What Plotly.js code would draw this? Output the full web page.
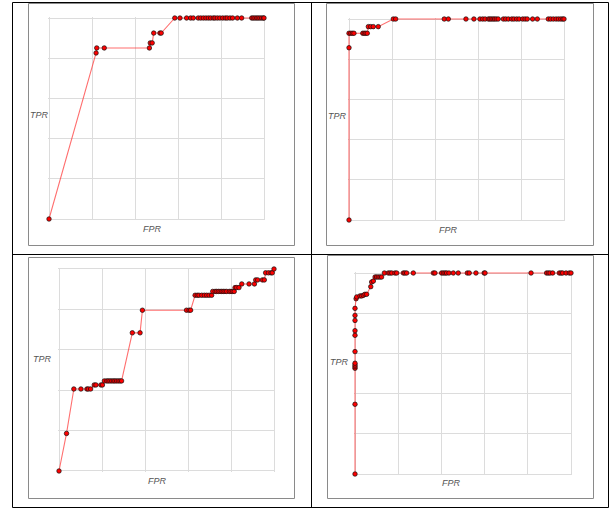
<!DOCTYPE html>
<html>
<head>
<meta charset="utf-8">
<script src="https://cdn.plot.ly/plotly-3.0.1.min.js"></script>
<style>html,body{margin:0;padding:0;background:#fff;}#chart{width:610px;height:508px;}</style>
</head>
<body>
<div id="chart"></div>
<script>
// ---- Data (ROC curves) ----
var fpr1 = [0, 0.219, 0.222, 0.257, 0.467, 0.471, 0.480, 0.487, 0.516, 0.522,
  0.585, 0.609, 0.640, 0.659, 0.671, 0.694, 0.706, 0.718, 0.730, 0.741, 0.752, 0.764, 0.772, 0.783,
  0.795, 0.808, 0.820, 0.829, 0.842, 0.854, 0.876, 0.896, 0.943, 0.950, 0.958, 0.966, 0.973, 0.981,
  0.989, 0.997, 1.0];
var tpr1 = [0, 0.826, 0.851, 0.851, 0.851, 0.876, 0.876, 0.925, 0.925, 0.925,
  1, 1, 1, 1, 1, 1, 1, 1, 1, 1, 1, 1, 1, 1,
  1, 1, 1, 1, 1, 1, 1, 1, 1, 1, 1, 1, 1, 1,
  1, 1, 1];

var fpr2 = [0, 0, 0, 0.008, 0.016, 0.023, 0.064, 0.071, 0.078, 0.085,
  0.090, 0.101, 0.113, 0.136,
  0.206, 0.217, 0.443, 0.462, 0.544, 0.581, 0.609, 0.622, 0.633, 0.648, 0.655, 0.662, 0.670, 0.677,
  0.685, 0.694, 0.718, 0.729, 0.741, 0.757, 0.767, 0.780, 0.791, 0.808, 0.819, 0.829, 0.854, 0.876,
  0.927, 0.938, 0.950, 0.963, 0.974, 0.985, 0.994, 1.0];
var tpr2 = [0, 0.857, 0.929, 0.929, 0.929, 0.929, 0.929, 0.929, 0.929, 0.929,
  0.962, 0.962, 0.962, 0.962,
  1, 1, 1, 1, 1, 1, 1, 1, 1, 1, 1, 1, 1, 1,
  1, 1, 1, 1, 1, 1, 1, 1, 1, 1, 1, 1, 1, 1,
  1, 1, 1, 1, 1, 1, 1, 1];

var fpr3 = [0, 0.035, 0.069, 0.102, 0.130, 0.136, 0.147, 0.164, 0.172, 0.195, 0.202,
  0.211, 0.222, 0.229, 0.237, 0.245, 0.253, 0.260, 0.268, 0.276, 0.284, 0.291,
  0.341, 0.377, 0.388, 0.593, 0.605, 0.612,
  0.633, 0.643, 0.651, 0.664, 0.676, 0.687, 0.698, 0.710,
  0.715, 0.726, 0.733, 0.741, 0.749, 0.757, 0.764, 0.772, 0.780, 0.792, 0.800, 0.808, 0.815,
  0.819, 0.826, 0.837, 0.850, 0.884, 0.909, 0.915, 0.924, 0.946, 0.955,
  0.961, 0.974, 0.986, 0.992, 1.0];
var tpr3 = [0, 0.186, 0.406, 0.406, 0.406, 0.406, 0.406, 0.426, 0.426, 0.426, 0.426,
  0.446, 0.446, 0.446, 0.446, 0.446, 0.446, 0.446, 0.446, 0.446, 0.446, 0.446,
  0.684, 0.684, 0.796, 0.796, 0.796, 0.796,
  0.870, 0.870, 0.870, 0.870, 0.870, 0.870, 0.870, 0.870,
  0.889, 0.889, 0.889, 0.889, 0.889, 0.889, 0.889, 0.889, 0.889, 0.889, 0.889, 0.889, 0.889,
  0.908, 0.908, 0.908, 0.926, 0.926, 0.926, 0.946, 0.946, 0.946, 0.946,
  0.981, 0.981, 0.981, 0.981, 1.0];

var fpr4 = [0, 0, 0, 0, 0, 0, 0, 0, 0, 0, 0, 0,
  0.005, 0.008, 0.023, 0.031, 0.039, 0.046, 0.054, 0.073, 0.077, 0.085,
  0.093, 0.100, 0.108, 0.116, 0.123,
  0.136, 0.154, 0.162, 0.170, 0.185, 0.193, 0.224, 0.231, 0.239, 0.270, 0.363, 0.370, 0.401,
  0.409, 0.417, 0.424, 0.435, 0.455, 0.478, 0.520, 0.529, 0.560, 0.598, 0.602, 0.815, 0.887,
  0.895, 0.903, 0.915, 0.946, 0.954, 0.961, 0.977, 0.992, 1.0];
var tpr4 = [0, 0.347, 0.526, 0.534, 0.542, 0.551, 0.609, 0.690, 0.713, 0.764, 0.789, 0.824,
  0.872, 0.881, 0.886, 0.886, 0.889, 0.894, 0.894, 0.932, 0.955, 0.960,
  0.980, 0.980, 0.980, 0.980, 0.980,
  1, 1, 1, 1, 1, 1, 1, 1, 1, 1, 1, 1, 1,
  1, 1, 1, 1, 1, 1, 1, 1, 1, 1, 1, 1, 1,
  1, 1, 1, 1, 1, 1, 1, 1, 1];

var xTitle = 'FPR';
var yTitle = 'TPR';

// ---- Layout geometry (pixels in a 610x508 page) ----
var W = 610, H = 508;
function px(x) { return x / W; }
function py(y) { return 1 - y / H; }

var panels = [
  {fpr: fpr1, tpr: tpr1, plot: [49, 18, 264, 219], box: [28, 3, 294, 245], ty: [39, 115], fx: [152, 229]},
  {fpr: fpr2, tpr: tpr2, plot: [349, 19, 564, 220], box: [326, 3, 593, 245], ty: [337, 116], fx: [448, 230]},
  {fpr: fpr3, tpr: tpr3, plot: [59, 269, 274, 471], box: [28, 257, 294, 498], ty: [42, 359], fx: [157, 481]},
  {fpr: fpr4, tpr: tpr4, plot: [355, 273, 571, 474], box: [327, 255, 593, 498], ty: [340, 362], fx: [451, 483]}
];

var data = [];
var layout = {
  width: W, height: H,
  margin: {l: 0, r: 0, t: 0, b: 0, pad: 0},
  paper_bgcolor: '#ffffff',
  plot_bgcolor: '#ffffff',
  showlegend: false,
  shapes: [],
  annotations: []
};

// outer table frame
layout.shapes.push({type: 'rect', xref: 'paper', yref: 'paper',
  x0: px(12.5), x1: px(608.5), y0: py(2.5), y1: py(507.5), line: {color: '#000', width: 1}, layer: 'below'});
layout.shapes.push({type: 'line', xref: 'paper', yref: 'paper',
  x0: px(311.5), x1: px(311.5), y0: py(2.5), y1: py(507.5), line: {color: '#000', width: 1}, layer: 'below'});
layout.shapes.push({type: 'line', xref: 'paper', yref: 'paper',
  x0: px(12.5), x1: px(608.5), y0: py(254.5), y1: py(254.5), line: {color: '#000', width: 1}, layer: 'below'});

var axisFont = {family: 'Liberation Sans, Arial, sans-serif', size: 9, color: '#555'};
var pad = 0.006; // small padding so edge lines are not clipped

panels.forEach(function (p, i) {
  var n = i + 1;
  var xa = 'xaxis' + (n === 1 ? '' : n);
  var ya = 'yaxis' + (n === 1 ? '' : n);
  var axCommon = {
    range: [-pad, 1 + pad], tick0: 0, dtick: 0.2,
    showticklabels: false, ticks: '',
    showgrid: true, gridcolor: '#dcdcdc', gridwidth: 1,
    zeroline: false, showline: false,
    layer: 'below traces',
    fixedrange: true
  };
  var wx = (p.plot[2] - p.plot[0]) * pad;
  var wy = (p.plot[3] - p.plot[1]) * pad;
  layout[xa] = Object.assign({}, axCommon, {
    domain: [px(p.plot[0] - wx), px(p.plot[2] + wx)],
    anchor: 'y' + (n === 1 ? '' : n)
  });
  layout[ya] = Object.assign({}, axCommon, {
    domain: [py(p.plot[3] + wy), py(p.plot[1] - wy)],
    anchor: 'x' + (n === 1 ? '' : n)
  });
  // grey panel box
  layout.shapes.push({type: 'rect', xref: 'paper', yref: 'paper',
    x0: px(p.box[0] + 0.5), x1: px(p.box[2] + 0.5), y0: py(p.box[1] + 0.5), y1: py(p.box[3] + 0.5),
    line: {color: '#8a8a8a', width: 1}, layer: 'below'});
  // axis titles
  layout.annotations.push({xref: 'paper', yref: 'paper', x: px(p.ty[0]), y: py(p.ty[1]),
    text: '<i>' + yTitle + '</i>', showarrow: false, xanchor: 'center', yanchor: 'middle', font: axisFont});
  layout.annotations.push({xref: 'paper', yref: 'paper', x: px(p.fx[0]), y: py(p.fx[1]),
    text: '<i>' + xTitle + '</i>', showarrow: false, xanchor: 'center', yanchor: 'middle', font: axisFont});

  data.push({
    type: 'scatter', mode: 'lines+markers',
    x: p.fpr, y: p.tpr,
    xaxis: 'x' + (n === 1 ? '' : n), yaxis: 'y' + (n === 1 ? '' : n),
    cliponaxis: false,
    line: {color: 'rgba(255,50,50,0.7)', width: 1.1},
    marker: {size: 4.5, color: '#ff0000', line: {color: '#111', width: 0.7}},
    hoverinfo: 'x+y'
  });
});

Plotly.newPlot('chart', data, layout, {staticPlot: true, displayModeBar: false});
</script>
</body>
</html>
